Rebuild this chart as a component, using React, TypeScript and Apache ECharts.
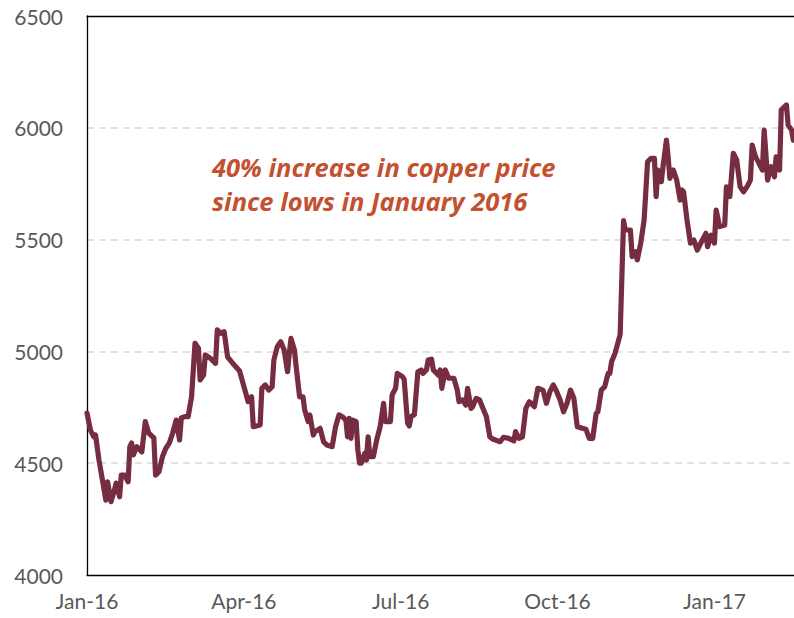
import React, { useEffect, useRef } from "react";
import * as echarts from "echarts";

// Days since 1 Jan 2016 for each observation
const dayIndex = [0,2,4,5,7,9,11,12,14,16,17,19,20,22,24,25,26,27,29,32,34,36,39,40,42,44,46,48,50,52,54,55,57,59,61,63,65,66,68,69,72,75,76,78,80,82,85,89,92,94,96,97,101,102,104,106,108,109,111,113,115,117,118,119,121,122,124,126,127,129,130,132,133,136,138,140,143,145,147,149,151,152,153,154,155,157,158,159,160,162,163,164,165,167,169,171,173,174,177,178,180,181,184,185,187,188,189,191,193,195,196,198,199,201,202,205,206,207,209,211,214,216,217,219,221,222,224,225,227,229,231,233,235,237,241,243,246,249,250,252,254,256,258,261,263,266,268,270,272,274,276,278,280,282,284,286,289,291,293,295,297,298,300,302,304,305,306,308,311,313,314,317,318,320,321,323,325,327,329,331,332,333,335,336,338,339,340,342,344,346,347,348,350,352,354,356,358,361,362,364,366,367,369,372,373,375,377,379,381,383,385,387,388,390,392,394,395,396,397,399,401,402,404,405,408,409,411,412];

// Copper price (USD/t)
const copperPrice = [4724,4648,4618,4626,4514,4425,4335,4417,4328,4380,4411,4350,4447,4447,4417,4574,4590,4537,4574,4551,4686,4635,4613,4447,4462,4529,4567,4590,4635,4693,4604,4702,4708,4708,4797,5036,5014,4872,4894,4984,4969,4947,5096,5081,5088,4976,4947,4912,4830,4775,4797,4663,4671,4835,4850,4827,4842,4961,5021,5043,5006,4909,4991,5058,5006,4932,4797,4797,4738,4686,4716,4626,4641,4656,4596,4581,4574,4663,4716,4708,4693,4618,4701,4611,4693,4686,4559,4500,4500,4544,4514,4618,4529,4529,4604,4663,4768,4686,4686,4805,4835,4902,4887,4875,4680,4666,4708,4718,4909,4917,4902,4917,4961,4965,4917,4894,4917,4835,4917,4880,4880,4827,4775,4783,4760,4835,4745,4753,4790,4783,4745,4708,4618,4607,4596,4616,4611,4600,4641,4611,4618,4745,4775,4753,4835,4827,4768,4820,4850,4820,4783,4730,4768,4827,4790,4663,4656,4652,4611,4611,4723,4730,4827,4842,4902,4902,4954,4991,5075,5585,5543,5543,5424,5446,5409,5484,5588,5848,5863,5863,5692,5811,5759,5826,5945,5870,5774,5811,5766,5677,5722,5714,5588,5484,5498,5453,5484,5528,5468,5520,5484,5632,5558,5565,5736,5692,5886,5856,5736,5714,5736,5766,5923,5870,5841,5811,5990,5886,5766,5826,5781,5870,5811,6080,6102,6012,5990,5945];

const xTickLabels = ["Jan-16", "Apr-16", "Jul-16", "Oct-16", "Jan-17"];
const annotationLines = ["40% increase in copper price", "since lows in January 2016"];

const FONT = "Lato, 'Open Sans', sans-serif";

export default function App() {
  const ref = useRef<HTMLDivElement>(null);
  useEffect(() => {
    if (!ref.current) return;
    const chart = echarts.init(ref.current, null, { renderer: "svg" });
    const seriesData = dayIndex.map((d, i) => [d, copperPrice[i]]);
    chart.setOption({
      animation: false,
      backgroundColor: "#ffffff",
      grid: { left: 87, right: 3, top: 16, bottom: 43, containLabel: false },
      xAxis: [
        {
          type: "value",
          min: 0,
          max: 420,
          interval: 91.5,
          axisLine: { show: true, lineStyle: { color: "#000", width: 1.3 } },
          axisTick: { show: false },
          splitLine: { show: false },
          axisLabel: {
            color: "#595959",
            fontSize: 21,
            fontFamily: FONT,
            margin: 15,
            showMaxLabel: false,
            formatter: (v: number) => {
              const i = Math.round(v / 91.5);
              return Math.abs(v - i * 91.5) < 0.01 && xTickLabels[i] ? xTickLabels[i] : "";
            },
          },
        },
        {
          type: "value",
          position: "top",
          min: 0,
          max: 420,
          axisLine: { show: true, onZero: false, lineStyle: { color: "#000", width: 1.3 } },
          axisTick: { show: false },
          axisLabel: { show: false },
          splitLine: { show: false },
        },
      ],
      yAxis: {
        type: "value",
        min: 4000,
        max: 6500,
        interval: 500,
        axisLine: { show: true, lineStyle: { color: "#000", width: 1.3 } },
        axisTick: { show: false },
        axisLabel: {
          color: "#595959",
          fontSize: 21,
          fontFamily: FONT,
          margin: 24,
          formatter: (v: number) => String(v),
        },
        splitLine: {
          show: true,
          showMinLine: false,
          showMaxLine: false,
          lineStyle: { color: "#D9D9D9", width: 1.5, type: [7, 5] },
        },
      },
      graphic: [
        {
          type: "text",
          left: 212,
          top: 150,
          style: {
            text: annotationLines.join("\n"),
            fill: "#C3502F",
            fontSize: 25.5,
            fontWeight: "bold",
            fontStyle: "italic",
            fontFamily: "'Open Sans', Lato, sans-serif",
            lineHeight: 34,
          },
        },
      ],
      series: [
        {
          type: "line",
          xAxisIndex: 0,
          data: seriesData,
          showSymbol: false,
          symbol: "none",
          lineStyle: { color: "#762D3F", width: 5.2, join: "round", cap: "round" },
        },
      ],
    });
    return () => chart.dispose();
  }, []);
  return (
    <div
      style={{
        position: "fixed",
        left: 0,
        top: 0,
        width: 794,
        height: 618,
        overflow: "hidden",
        background: "#fff",
      }}
    >
      <div ref={ref} style={{ width: 810, height: 618 }} />
    </div>
  );
}
